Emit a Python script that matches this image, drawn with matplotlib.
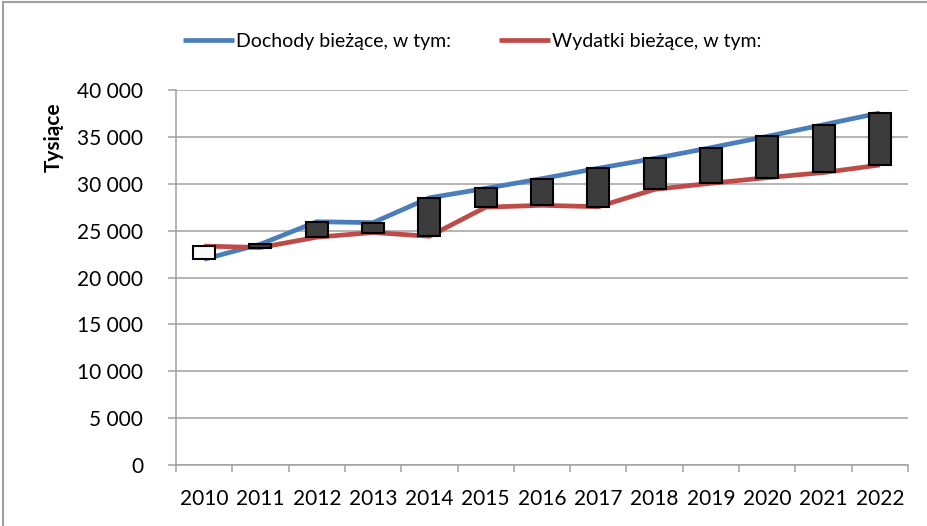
import numpy as np
import matplotlib.pyplot as plt
from matplotlib.ticker import FuncFormatter, MultipleLocator, FixedLocator
from matplotlib.patches import Rectangle

years = ['2010', '2011', '2012', '2013', '2014', '2015', '2016',
         '2017', '2018', '2019', '2020', '2021', '2022']
dochody = [21950, 23550, 25950, 25850, 28500, 29500, 30550,
           31650, 32700, 33850, 35050, 36300, 37550]
wydatki = [23350, 23200, 24300, 24800, 24400, 27500, 27700,
           27550, 29400, 30050, 30650, 31200, 32000]

plt.rcParams['font.family'] = ['Lato', 'DejaVu Sans']

fig = plt.figure(figsize=(9.28, 5.26), dpi=100)
ax = fig.add_axes([176 / 928, 61 / 526, 732 / 928, 375 / 526])

x = np.arange(len(years))
ax.plot(x, dochody, color='#4a7ebb', lw=3.4, solid_capstyle='butt',
        label='Dochody bieżące, w tym:', zorder=3)
ax.plot(x, wydatki, color='#be4b48', lw=3.4, solid_capstyle='butt',
        label='Wydatki bieżące, w tym:', zorder=3)

# up/down bars between the two series
d = np.array(dochody)
w = np.array(wydatki)
bottoms = np.minimum(d, w)
heights = np.abs(d - w)
colors = ['#3c3c3c' if di >= wi else '#f8f8f8' for di, wi in zip(d, w)]
ax.bar(x, heights, bottom=bottoms, width=0.39, color=colors,
       edgecolor='black', linewidth=1.5, zorder=4)

ax.set_xlim(-0.5, len(years) - 0.5)
ax.set_ylim(0, 40000)
ax.yaxis.set_major_locator(MultipleLocator(5000))
ax.yaxis.set_major_formatter(FuncFormatter(lambda v, p: f"{int(v):,}".replace(",", " ")))
ax.set_xticks(x)
ax.set_xticklabels(years)
ax.xaxis.set_minor_locator(FixedLocator(np.arange(-0.5, len(years), 1.0)))

ax.grid(axis='y', color='#a0a0a0', lw=1.1, zorder=0)
for s in ['top', 'right']:
    ax.spines[s].set_visible(False)
for s in ['left', 'bottom']:
    ax.spines[s].set_color('#a0a0a0')
    ax.spines[s].set_linewidth(1.1)

ax.tick_params(axis='y', length=5.5, width=1.1, color='#a0a0a0', pad=18, labelsize=15)
ax.tick_params(axis='x', which='major', length=0, pad=17, labelsize=15)
ax.tick_params(axis='x', which='minor', length=5, width=1.1, color='#a0a0a0')

ax.set_ylabel('Tysiące', fontsize=15, fontweight='bold')
ax.yaxis.set_label_coords(-0.154, 0.875)

fig.legend(loc='center', bbox_to_anchor=(472 / 928, 1 - 41 / 526), ncol=2,
           frameon=False, fontsize=14, handlelength=2.6, handletextpad=0.1,
           columnspacing=2.5)

fig.patches.append(Rectangle((3 / 928, -0.1), 1.2, 1.1 - 2 / 526,
                             transform=fig.transFigure, fill=False,
                             edgecolor='#a0a0a0', lw=1.5))

fig.savefig('out.png', dpi=100)
